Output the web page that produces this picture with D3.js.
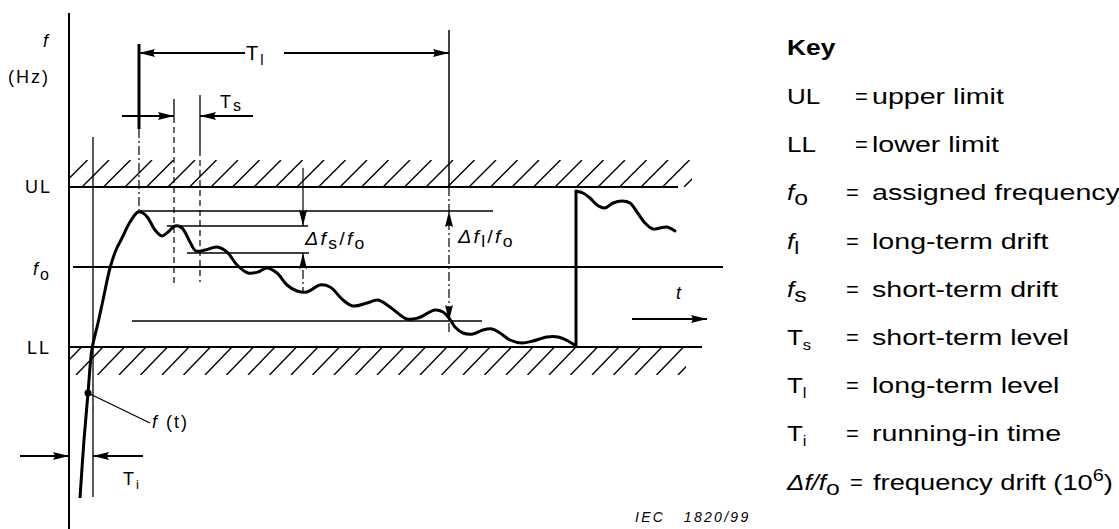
<!DOCTYPE html>
<meta charset="utf-8">
<style>
  body { margin: 0; background: #fff; }
  svg text { font-family: "Liberation Sans", Arial, sans-serif; fill: #000; }
  .lbl { font-size: 18px; letter-spacing: 2px; }
  .key { font-size: 22px; }
  .iec { font-size: 14px; font-style: italic; letter-spacing: 2.3px; white-space: pre; }
</style>

<script src="https://d3js.org/d3.v7.min.js"></script>

<div id="chart"></div>

<script>

// time in arbitrary units, frequency as offset from fo (UL = +40, LL = -40)

// f(t) from switch-on until the step
var curveT = [2.2, 3.0, 3.8, 4.6, 5.8, 6.8, 8.2, 9.4, 10.6, 12.2, 13.8, 14.8, 15.8, 17.2, 18.6, 19.8, 21.2, 22.6,
              24.2, 25.4, 27.2, 29.6, 31.6, 33.6, 35.8, 37.8, 39.6, 41.6, 43.6, 45.6, 47.6, 50.2, 52.2, 54.8,
              56.8, 59.6, 61.8, 64.2, 67.6, 69.8, 73.2, 74.8, 76, 77.2, 78.8, 80.8, 82.8, 84.6, 86.2, 88.2,
              90.6, 92.8, 95.6, 97.8, 99.8, 101.4];
var curveF = [-115.5, -86.5, -63, -41, -28, -16.5, -0.5, 8.5, 14.5, 22.5, 27.5, 27, 24.5, 18.5, 15.5, 17.5, 20.5, 19.5,
              12.5, 8, 8.5, 10, 7.5, 1, -3, -2.5, -0.5, -3, -9, -12, -12.5, -9, -10, -16.5,
              -19.5, -18, -16.5, -20, -26, -25.5, -21.5, -22.5, -25.5, -30, -33, -33.5, -31.5, -31, -33, -36.5,
              -38, -37, -35, -35, -37, -39.5];
// the step and what follows it
var stepT = [101.4, 101.4];
var stepF = [-39.5, 38];
var tailT = [101.4, 102.8, 104.2, 105.6, 107.2, 108.8, 110.6, 112.2, 113.6, 115.2, 116.8, 118.2, 119.6, 121.2];
var tailF = [38, 37, 34.5, 31, 29.5, 32, 33, 32, 27.5, 22, 19, 19.5, 20, 18];

// horizontal levels
var levelNames = ["UL", "LL", "fo", "peak", "shortHigh", "shortLow", "longLow"];
var levelF = [40, -40, 0, 28, 20.5, 7, -27];
var levelT0 = [0, 0, 0.8, 14.2, 19.6, 23.6, 12.6];
var levelT1 = [121.8, 126.6, 130.8, 84.8, 47.8, 48, 82.6];

// hatched limit bands
var bandNames = ["UL", "LL"];
var bandInner = [40, -40];
var bandOuter = [53.5, -54];
var bandEnd = [124.6, 123.4];

// vertical lines
var vertNames = ["axis", "Ti", "TlA", "TlB", "TsA", "TsB", "TsC", "TsD", "TlC", "TlD", "dfsA", "dfsB"];
var vertT = [0, 4.8, 14, 14, 21, 21, 26.2, 26.2, 76, 76, 46.8, 46.8];
var vertFrom = [127, 65, 111.5, 69, 84, 75, 86, 58.5, 118.5, 40, 49.5, 7];
var vertTo = [-131, -115, 69, 27.5, 75, -10, 58.5, -7.5, 40, -34, 20.5, -12.5];

// horizontal dimension arrows (tail -> tip)
var dimNames = ["TlL", "TlR", "TsL", "TsR", "TiL", "TiR", "time"];
var dimF = [107, 107, 75.5, 75.5, -94.5, -94.5, -26];
var dimFromT = [35.2, 43, 10.6, 36.8, -9.8, 14.8, 112.6];
var dimToT = [14, 76, 21, 26.2, 0, 4.8, 127.6];

// vertical arrow tips for the drift spans
var tipT = [46.8, 46.8, 76, 76];
var tipF = [20.5, 7, 28, -27];
var tipDir = [1, -1, -1, 1];

// key
var keyDefs = ["upper limit", "lower limit", "assigned frequency", "long-term drift", "short-term drift",
               "short-term level", "long-term level", "running-in time", "frequency drift (10"];

var width = 1119, height = 529;

var svg = d3.select("#chart")
  .append("svg")
    .attr("width", width)
    .attr("height", height);

var x = d3.scaleLinear().domain([0, 131]).range([69, 724]);
var y = d3.scaleLinear().domain([-40, 40]).range([347, 187]);

// arrow head: tip at (px,py), pointing along (dx,dy)
function arrowHead(px, py, dx, dy) {
  var L = 16, W = 4;
  var bx = px - dx * L, by = py - dy * L;
  var nx = -dy, ny = dx;
  svg.append("path")
    .attr("d", "M" + px + "," + py + "L" + (bx + nx * W) + "," + (by + ny * W) +
               "Q" + (px - dx * L * 0.8) + "," + (py - dy * L * 0.8) + " " + (bx - nx * W) + "," + (by - ny * W) + "Z")
    .attr("fill", "#000");
}

// text with italic parts and sub/superscripts, optionally stretched sideways
function rich(px, py, cls, parts, k) {
  var t = svg.append("text").attr("class", cls);
  if (k) t.attr("transform", "translate(" + px + "," + py + ") scale(" + k + ",1)");
  else t.attr("x", px).attr("y", py);
  var shift = 0;
  parts.forEach(function (p) {
    var s = t.append("tspan").text(p.t);
    var sh = p.dy || 0;
    if (sh !== shift) s.attr("dy", sh - shift);
    shift = sh;
    if (p.it) s.style("font-style", "italic");
    if (p.fs) s.style("font-size", p.fs + "px");
    if (p.ls != null) s.style("letter-spacing", p.ls + "px");
  });
  return t;
}

// hatching
var defs = svg.append("defs");
bandNames.forEach(function (name, i) {
  var top = Math.max(bandInner[i], bandOuter[i]), bot = Math.min(bandInner[i], bandOuter[i]);
  defs.append("clipPath").attr("id", "clip" + name)
    .append("rect")
      .attr("x", x(0)).attr("y", y(top))
      .attr("width", x(bandEnd[i]) - x(0))
      .attr("height", y(bot) - y(top));
  var start = name === "UL" ? -0.6 : 2.5;
  var run = 5.4;
  var g = svg.append("g").attr("clip-path", "url(#clip" + name + ")");
  g.selectAll("line")
    .data(d3.range(start - run, bandEnd[i] + run, 4.3))
    .enter().append("line")
      .attr("x1", function (d) { return x(d); })
      .attr("y1", y(bot))
      .attr("x2", function (d) { return x(d + run); })
      .attr("y2", y(top))
      .attr("stroke", "#000")
      .attr("stroke-width", 1.4);
});

// horizontal levels
var levelWidth = {UL: 2.2, LL: 2.2, fo: 1.8};
svg.append("g").selectAll("line")
  .data(levelNames)
  .enter().append("line")
    .attr("x1", function (d, i) { return x(levelT0[i]); })
    .attr("x2", function (d, i) { return x(levelT1[i]); })
    .attr("y1", function (d, i) { return y(levelF[i]); })
    .attr("y2", function (d, i) { return y(levelF[i]); })
    .attr("stroke", "#000")
    .attr("stroke-width", function (d) { return levelWidth[d] || 1.5; });

// vertical lines
var vertStyle = {
  axis: [2, null], Ti: [1.3, null], TlA: [3, null], TlB: [1.2, "9,3,2,3"],
  TsA: [1.3, null], TsB: [1.2, "6,4"], TsC: [1.3, null], TsD: [1.2, "6,4"],
  TlC: [1.5, null], TlD: [1.2, "9,3,2,3"], dfsA: [1.2, null], dfsB: [1.2, "9,3,2,3"]
};
svg.append("g").selectAll("line")
  .data(vertNames)
  .enter().append("line")
    .attr("x1", function (d, i) { return x(vertT[i]); })
    .attr("x2", function (d, i) { return x(vertT[i]); })
    .attr("y1", function (d, i) { return y(vertFrom[i]); })
    .attr("y2", function (d, i) { return y(vertTo[i]); })
    .attr("stroke", "#000")
    .attr("stroke-width", function (d) { return vertStyle[d][0]; })
    .attr("stroke-dasharray", function (d) { return vertStyle[d][1]; });

// horizontal dimension arrows
dimNames.forEach(function (d, i) {
  var x0 = x(dimFromT[i]), x1 = x(dimToT[i]), yy = y(dimF[i]);
  svg.append("line")
    .attr("x1", x0).attr("x2", x1).attr("y1", yy).attr("y2", yy)
    .attr("stroke", "#000").attr("stroke-width", d.indexOf("Tl") === 0 ? 2 : 1.8);
  arrowHead(x1, yy, x1 > x0 ? 1 : -1, 0);
});

// drift arrow tips
tipT.forEach(function (t, i) {
  arrowHead(x(t), y(tipF[i]), 0, tipDir[i]);
});

// f(t)
var line = d3.line()
  .x(function (d) { return x(d[0]); })
  .y(function (d) { return y(d[1]); })
  .curve(d3.curveCatmullRom.alpha(0.5));

svg.append("path")
  .datum(d3.zip(curveT, curveF))
  .attr("d", line)
  .attr("fill", "none").attr("stroke", "#000").attr("stroke-width", 3).attr("stroke-linejoin", "round");
svg.append("path")
  .datum(d3.zip(stepT, stepF))
  .attr("d", d3.line().x(function (d) { return x(d[0]); }).y(function (d) { return y(d[1]); }))
  .attr("fill", "none").attr("stroke", "#000").attr("stroke-width", 3);
svg.append("path")
  .datum(d3.zip(tailT, tailF))
  .attr("d", line)
  .attr("fill", "none").attr("stroke", "#000").attr("stroke-width", 3).attr("stroke-linecap", "round");

// f(t) callout
svg.append("circle").attr("cx", x(curveT[2])).attr("cy", y(curveF[2])).attr("r", 3.5).attr("fill", "#000");
svg.append("line")
  .attr("x1", x(curveT[2])).attr("y1", y(curveF[2]))
  .attr("x2", x(16.2)).attr("y2", y(-78))
  .attr("stroke", "#000").attr("stroke-width", 1.3);

// diagram labels
rich(43, 47, "lbl", [{t: "f", it: true}]);
rich(8, 83, "lbl", [{t: "(Hz)"}]);
rich(25, y(40) + 6, "lbl", [{t: "UL"}]);
rich(27, y(-40) + 7, "lbl", [{t: "LL"}]);
rich(33, y(0) + 8, "lbl", [{t: "f", it: true}, {t: "o", dy: 5, fs: 16}]);
rich(x(35.2) + 1, y(107) + 7, "lbl", [{t: "T", fs: 20}, {t: "l", dy: 5, fs: 15}]);
rich(220, y(75.5) - 8, "lbl", [{t: "T", fs: 18}, {t: "s", dy: 3, fs: 16}]);
rich(305, 245, "lbl", [{t: "Δ", it: true}, {t: "f", it: true}, {t: "s", dy: 4, fs: 16}, {t: "/"}, {t: "f", it: true}, {t: "o", dy: 4, fs: 16}], 1.1);
rich(458, 243, "lbl", [{t: "Δ", it: true}, {t: "f", it: true}, {t: "l", dy: 4, fs: 16}, {t: "/"}, {t: "f", it: true}, {t: "o", dy: 4, fs: 16}], 1.1);
rich(676, 299, "lbl", [{t: "t", it: true}]);
rich(x(16.2) + 2, y(-78) + 5, "lbl", [{t: "f", it: true}, {t: " (t)"}]);
rich(123, 485, "lbl", [{t: "T"}, {t: "i", dy: 4, fs: 13}]);
svg.append("text").attr("class", "iec").attr("x", 635).attr("y", 522).text("IEC   1820/99");

// key (the printed key uses a wide typeface, so the text is stretched sideways)
rich(787, 55, "key", [{t: "Key"}], 1.2).style("font-weight", "bold");
var keySyms = [
  [{t: "UL"}], [{t: "LL"}],
  [{t: "f", it: true}, {t: "o", dy: 5, fs: 21}],
  [{t: "f", it: true}, {t: "l", dy: 5, fs: 19}],
  [{t: "f", it: true}, {t: "s", dy: 5, fs: 21}],
  [{t: "T"}, {t: "s", dy: 5, fs: 14}],
  [{t: "T"}, {t: "l", dy: 5, fs: 14}],
  [{t: "T"}, {t: "i", dy: 5, fs: 14}],
  [{t: "Δ", it: true}, {t: "f/f", it: true}, {t: "o", dy: 5, fs: 21}]
];
var eqX = [855, 855, 846, 846, 846, 846, 846, 846, 850];
keyDefs.forEach(function (txt, i) {
  var yy = 104 + i * 48.2;
  rich(787, yy, "key", keySyms[i], 1.18);
  rich(eqX[i], yy, "key", [{t: "="}]);
  if (i === keyDefs.length - 1) {
    rich(873, yy, "key", [{t: txt}, {t: "6", dy: -9, fs: 16}, {t: ")"}], 1.24);
  } else {
    rich(872, yy, "key", [{t: txt}], 1.3);
  }
});

</script>
